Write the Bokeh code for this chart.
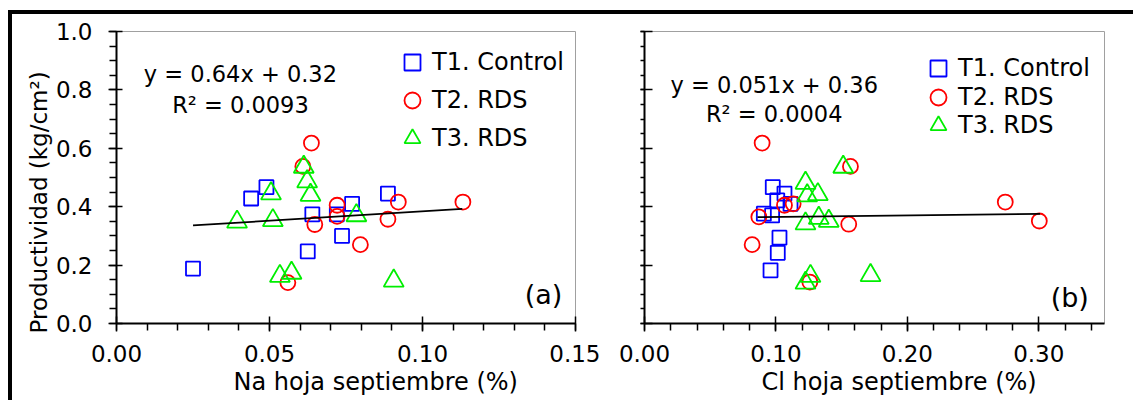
from bokeh.embed import file_html
from bokeh.layouts import column, row
from bokeh.models import (CustomJSTickFormatter, Div, FixedTicker, Label, Legend,
                          LegendItem, NumeralTickFormatter, Title)
from bokeh.plotting import figure
from bokeh.resources import INLINE

# ---- Productividad vs Na en hoja (septiembre) ----
na_t1 = [0.025, 0.044, 0.049, 0.064, 0.0625, 0.072, 0.077, 0.0737, 0.0887]
prod_na_t1 = [0.188, 0.428, 0.467, 0.374, 0.247, 0.374, 0.410, 0.300, 0.445]

na_t2 = [0.0637, 0.0609, 0.0721, 0.0721, 0.0648, 0.0797, 0.0921, 0.0887, 0.0560, 0.1132]
prod_na_t2 = [0.618, 0.538, 0.405, 0.367, 0.339, 0.270, 0.416, 0.357, 0.140, 0.416]

na_t3 = [0.0394, 0.0511, 0.0505, 0.0612, 0.0623, 0.0634, 0.0784, 0.0534, 0.0572, 0.0906]
prod_na_t3 = [0.348, 0.353, 0.445, 0.536, 0.486, 0.440, 0.370, 0.162, 0.173, 0.146]

# ---- Productividad vs Cl en hoja (septiembre) ----
cl_t1 = [0.0976, 0.1065, 0.1010, 0.1111, 0.0908, 0.0971, 0.1027, 0.1014, 0.0959]
prod_cl_t1 = [0.467, 0.445, 0.422, 0.410, 0.376, 0.370, 0.294, 0.242, 0.182]

cl_t2 = [0.0895, 0.1567, 0.1065, 0.1131, 0.0870, 0.1554, 0.0819, 0.1258, 0.2745, 0.3004]
prod_cl_t2 = [0.618, 0.538, 0.405, 0.410, 0.365, 0.340, 0.270, 0.142, 0.416, 0.351]

cl_t3 = [0.1512, 0.1225, 0.1238, 0.1319, 0.1225, 0.1326, 0.1402, 0.1263, 0.1225, 0.1720]
prod_cl_t3 = [0.536, 0.481, 0.438, 0.442, 0.342, 0.361, 0.351, 0.162, 0.139, 0.165]

# linear fits (slope, intercept, R²) and the x span each line covers
fit_na = (0.64, 0.32, "0.0093")
fit_na_span = [0.025, 0.113]
fit_cl = (0.051, 0.36, "0.0004")
fit_cl_span = [0.086, 0.301]

series_names = ["T1. Control", "T2. RDS", "T3. RDS"]
series_markers = ["square", "circle", "triangle"]
series_colors = ["#0000ff", "#ff0000", "#00ee00"]
marker_sizes = [14, 15, 20]

FONT = "DejaVu Sans"
FRAME_BOTTOM = 309   # frame bottom inside each figure (px from figure top)


def style_axes(p, x_ticks, x_minor, y_labels, y_tick_in, y_tick_out, y_minor_out):
    p.grid.visible = False
    p.outline_line_color = "#a0a0a0"
    p.outline_line_width = 1
    for ax in (p.xaxis[0], p.yaxis[0]):
        ax.axis_line_width = 2
        ax.axis_line_color = "black"
        ax.major_tick_line_width = 1.5
        ax.minor_tick_line_width = 1.5
        ax.major_tick_line_color = "black"
        ax.minor_tick_line_color = "black"
        ax.major_label_text_font = FONT
        ax.major_label_text_font_size = "23px"
        ax.major_label_text_color = "black"
        ax.minor_tick_in = 0
    xa, ya = p.xaxis[0], p.yaxis[0]
    xa.ticker = FixedTicker(ticks=x_ticks, minor_ticks=x_minor)
    xa.formatter = NumeralTickFormatter(format="0.00")
    xa.major_tick_in = 7
    xa.major_tick_out = 8
    xa.minor_tick_out = 7
    xa.major_label_standoff = 13
    ya.ticker = FixedTicker(ticks=[0.0, 0.2, 0.4, 0.6, 0.8, 1.0],
                            minor_ticks=[i * 0.05 for i in range(21)])
    ya.major_tick_in = y_tick_in
    ya.major_tick_out = y_tick_out
    ya.minor_tick_out = y_minor_out
    if y_labels:
        ya.formatter = NumeralTickFormatter(format="0.0")
        ya.major_label_standoff = 16
    else:
        ya.formatter = CustomJSTickFormatter(code="return '';")
        ya.major_label_standoff = 0


def panel(width, border_left, border_right, x_max, xs, ys, fit, fit_span,
          eq_pos, legend_x, legend_rows):
    p = figure(width=width, height=386, x_range=(0, x_max), y_range=(0, 1.0),
               min_border_left=border_left, min_border_right=border_right,
               min_border_top=17, min_border_bottom=77,
               output_backend="svg", toolbar_location=None,
               background_fill_color="white", border_fill_color="white")
    renderers = []
    for x, y, mk, col, sz in zip(xs, ys, series_markers, series_colors, marker_sizes):
        renderers.append(p.scatter(x, y, marker=mk, size=sz, fill_color=None,
                                   line_color=col, line_width=1.8))

    slope, intercept, r2 = fit
    p.line(fit_span, [slope * v + intercept for v in fit_span],
           line_color="black", line_width=1.8)

    eq_x, eq_y1, eq_y2 = eq_pos
    for txt, yy in ((f"y = {slope}x + {intercept}", eq_y1), (f"R² = {r2}", eq_y2)):
        p.add_layout(Label(x=eq_x, y=yy, text=txt, text_font=FONT,
                           text_font_size="22.5px", text_align="center",
                           text_baseline="alphabetic", text_color="black"))

    # one single-entry legend per series so each row sits where it should
    for r, name, row_center in zip(renderers, series_names, legend_rows):
        p.add_layout(Legend(items=[LegendItem(label=name, renderers=[r])],
                            location=(legend_x, FRAME_BOTTOM - row_center - 20),
                            glyph_width=40, glyph_height=40, label_standoff=0,
                            padding=0, margin=0, spacing=0,
                            label_text_font=FONT, label_text_font_size="24px",
                            label_text_color="black", border_line_color=None,
                            background_fill_alpha=0.0))
    return p


def axis_title(p, text, side, offset, size):
    p.add_layout(Title(text=text, align="left", offset=offset, standoff=2,
                       text_font=FONT, text_font_size=size,
                       text_font_style="normal", text_color="black"), side)


# panel (a): Na
pa = panel(588, 104, 25, 0.15, [na_t1, na_t2, na_t3],
           [prod_na_t1, prod_na_t2, prod_na_t3], fit_na, fit_na_span,
           (0.0405, 0.855, 0.750), 276, [47.5, 85.5, 123.5])
style_axes(pa, [0.0, 0.05, 0.10, 0.15], [i * 0.01 for i in range(16)], True, 6, 8, 7)
pa.add_layout(Label(x=0.1457, y=0.100, text="(a)", text_font=FONT,
                    text_font_size="27px", text_align="right",
                    text_baseline="alphabetic", text_color="black"))
axis_title(pa, "Na hoja septiembre (%)", "below", 117, "24px")
axis_title(pa, "Productividad (kg/cm²)", "left", -10, "23px")

# panel (b): Cl
pb = panel(533, 44, 29, 0.35, [cl_t1, cl_t2, cl_t3],
           [prod_cl_t1, prod_cl_t2, prod_cl_t3], fit_cl, fit_cl_span,
           (0.0987, 0.818, 0.716), 274, [54, 82.5, 111])
style_axes(pb, [0.0, 0.10, 0.20, 0.30], [i * 0.02 for i in range(18)], False, 8, 4, 4)
pb.add_layout(Label(x=0.3381, y=0.089, text="(b)", text_font=FONT,
                    text_font_size="27px", text_align="right",
                    text_baseline="alphabetic", text_color="black"))
axis_title(pb, "Cl hoja septiembre (%)", "below", 117, "24px")

# black frame lines along the top and left of the whole figure
top_rule = Div(text="", width=1125, height=4, margin=(10, 0, 0, 8),
               styles={"background-color": "black"})
left_rule = Div(text="", width=4, height=386, margin=(0, 0, 0, 8),
                styles={"background-color": "black"})

layout = column(top_rule, row(left_rule, pa, pb, spacing=0), spacing=0)
open("out.html", "w").write(file_html(layout, INLINE))
